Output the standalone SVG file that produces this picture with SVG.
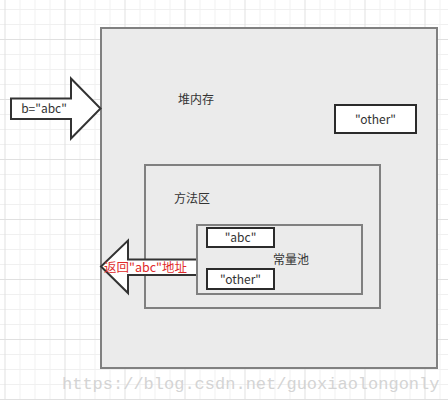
<svg xmlns="http://www.w3.org/2000/svg" width="448" height="400" viewBox="0 0 448 400">
  <defs>
    <pattern id="grid" x="4.5" y="-21" width="60" height="60" patternUnits="userSpaceOnUse">
      <path d="M15.5 0V60M30.5 0V60M45.5 0V60M0 15.5H60M0 30.5H60M0 45.5H60" stroke="#f0f0f0" stroke-width="1" fill="none"/>
      <path d="M0.5 0V60M0 0.5H60" stroke="#e0e0e0" stroke-width="1" fill="none"/>
    </pattern>
    <style>
      .box{fill:#ebebeb;stroke:#808080;stroke-width:2}
      .val{fill:#ffffff;stroke:#2b2b2b;stroke-width:2}
      .arrow{fill:#ffffff;stroke:#333333;stroke-width:2;stroke-linejoin:miter}
      .t{font-family:"Noto Sans CJK SC","Noto Sans",sans-serif;font-size:12px;fill:#333333}
      .red{fill:#e02b2b;font-size:12.5px}
      .wm{font-family:"Liberation Mono",monospace;font-size:17px;fill:#d4d4d4}
    </style>
  </defs>
  <rect width="448" height="400" fill="#ffffff"/>
  <rect width="448" height="400" fill="url(#grid)"/>

  <g id="heap">
    <rect class="box" x="101" y="28" width="336" height="340"/>
    <text class="t" x="178" y="104">堆内存</text>
  </g>
  <g id="heap-other">
    <rect class="val" x="335" y="105" width="81" height="28"/>
    <text class="t" x="375.5" y="123.5" text-anchor="middle">"other"</text>
  </g>
  <g id="method-area">
    <rect class="box" x="145" y="165" width="235" height="143"/>
    <text class="t" x="174" y="203">方法区</text>
  </g>

  <g id="connectors">
    <g id="arrow-in">
      <path class="arrow" d="M11 98.5H71V78.5L100.5 108.5L71 138.5V119H11Z"/>
      <text class="t" x="44" y="113" text-anchor="middle">b="abc"</text>
    </g>
    <g id="arrow-out">
      <path class="arrow" d="M197 259.5H128V240.5L101 266.5L128 293V275H197Z"/>
      <text class="t red" x="104" y="272">返回"abc"地址</text>
    </g>
  </g>

  <g id="constant-pool">
    <rect class="box" x="197" y="225" width="165" height="69"/>
    <text class="t" x="273" y="264">常量池</text>
  </g>
  <g id="pool-abc">
    <rect class="val" x="207" y="228" width="67" height="19"/>
    <text class="t" x="240.5" y="242" text-anchor="middle">"abc"</text>
  </g>
  <g id="pool-other">
    <rect class="val" x="207" y="269" width="67" height="20"/>
    <text class="t" x="240.5" y="284" text-anchor="middle">"other"</text>
  </g>

  <text class="wm" x="62" y="389">https://blog.csdn.net/guoxiaolongonly</text>
</svg>
